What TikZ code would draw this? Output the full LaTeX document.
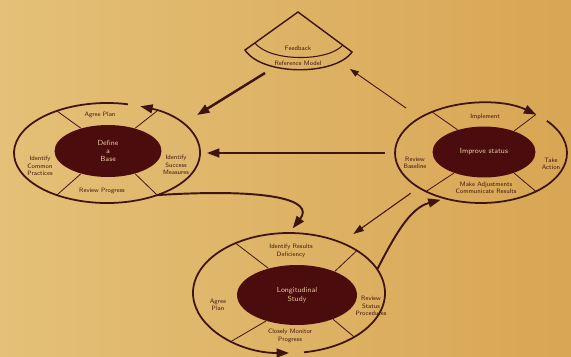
\documentclass[tikz,border=0pt]{standalone}
\usetikzlibrary{arrows.meta,shapes.geometric}
\definecolor{paper}{RGB}{216,166,84}
\definecolor{paperlight}{RGB}{228,192,120}
\definecolor{ink}{RGB}{62,20,14}
\definecolor{core}{RGB}{74,12,12}
\definecolor{coretext}{RGB}{232,204,160}
\begin{document}
\begin{tikzpicture}[x=0.02cm,y=0.02cm,
	ring/.style={ellipse,inner sep=0pt,outer sep=0pt},
	corebox/.style={ellipse,fill=core,inner sep=0pt,text=coretext,align=center,
		font=\sffamily\fontsize{4.2}{4.8}\selectfont},
	rim/.style={draw=ink,line width=1pt,-{Triangle[length=7pt,width=5pt]}},
	divider/.style={draw=ink,line width=0.45pt},
	lab/.style={text=ink,align=center,inner sep=0pt,font=\sffamily\fontsize{3.6}{4.2}\selectfont},
	flow/.style={draw=ink,-{Triangle[length=7pt,width=5pt]}}]
\useasboundingbox[left color=paperlight,right color=paper] (0,0) rectangle (571,356);
% Left ring
\node[ring,minimum width=3.72cm,minimum height=2cm] (lring) at (107,203) {};
\node[corebox,minimum width=2.14cm,minimum height=1.04cm] (lcore) at (108,205) {Define\\a\\Base};
\draw[rim] (lring.center) ++(77:93 and 50) arc[start angle=77,end angle=429,x radius=93,y radius=50];
\foreach \a in {140,40,220,320}
	\draw[divider] (lcore.\a) -- (lring.\a);
\node[lab] (l1) at (100,241) {Agree Plan};
\node[lab] (l2) at (40,190) {Identify\\Common\\Practices};
\node[lab] (l3) at (176,191) {Identify\\Success\\Measures};
\node[lab] (l4) at (102,165) {Review Progress};
% Right ring
\node[ring,minimum width=3.44cm,minimum height=2cm] (rring) at (481,203) {};
\node[corebox,minimum width=2.06cm,minimum height=1.02cm] (rcore) at (484,204) {Improve status};
\draw[rim] (rring.center) ++(40:86 and 50) arc[start angle=40,end angle=-310,x radius=86,y radius=50];
\foreach \a in {140,35,215,325}
	\draw[divider] (rcore.\a) -- (rring.\a);
\node[lab] (r1) at (485,239) {Implement};
\node[lab] (r2) at (415,193) {Review\\Baseline};
\node[lab] (r3) at (551,192) {Take\\Action};
\node[lab] (r4) at (486,168) {Make Adjustments\\Communicate Results};
% Bottom ring
\node[ring,minimum width=3.84cm,minimum height=2.4cm] (bring) at (289,63) {};
\node[corebox,minimum width=2.4cm,minimum height=1.2cm] (bcore) at (297,61) {Longitudinal\\Study};
\draw[rim] (bring.center) ++(279:96 and 60) arc[start angle=279,end angle=630,x radius=96,y radius=60];
\foreach \a in {137,32,220,326}
	\draw[divider] (bcore.\a) -- (bring.\a);
\node[lab] (b1) at (291,105) {Identify Results\\Deficiency};
\node[lab] (b2) at (218,51) {Agree\\Plan};
\node[lab] (b3) at (371,50) {Review\\Status\\Procedures};
\node[lab] (b4) at (290,20) {Closely Monitor\\Progress};
% Fan
\draw[ink,line width=0.8pt] (245,306) -- (298,344) -- (352,304) .. controls (335,280) and (262,280) .. cycle;
\draw[ink,line width=0.6pt] (255,313) .. controls (270,294) and (328,294) .. (343,311);
\node[lab] (f1) at (298,308) {Feedback};
\node[lab] (f2) at (298,293) {Reference Model};
\coordinate (fanA) at (265,283);
\coordinate (fanB) at (350,287);
% Connectors
\draw[flow,line width=1.4pt,shorten >=0.34cm] (fanA) -- (lring.21);
\draw[flow,line width=0.5pt,-{Triangle[length=5pt,width=3.5pt]},shorten <=0.34cm] (rring.150) -- (fanB);
\draw[flow,line width=1pt,shorten <=0.2cm,shorten >=0.14cm] (rring.west) -- (lring.east);
\draw[flow,line width=0.6pt,-{Triangle[length=6pt,width=4pt]},shorten <=0.2cm,shorten >=0.3cm] (rring.209) -- (bring.44);
\draw[flow,line width=1.1pt,shorten >=0.12cm] (lring.-40) .. controls (270,168) and (315,156) .. (bring.north);
\draw[flow,line width=1.1pt,shorten >=0.1cm] (bring.15) .. controls (395,121) and (410,148) .. (rring.232);
\end{tikzpicture}
\end{document}
